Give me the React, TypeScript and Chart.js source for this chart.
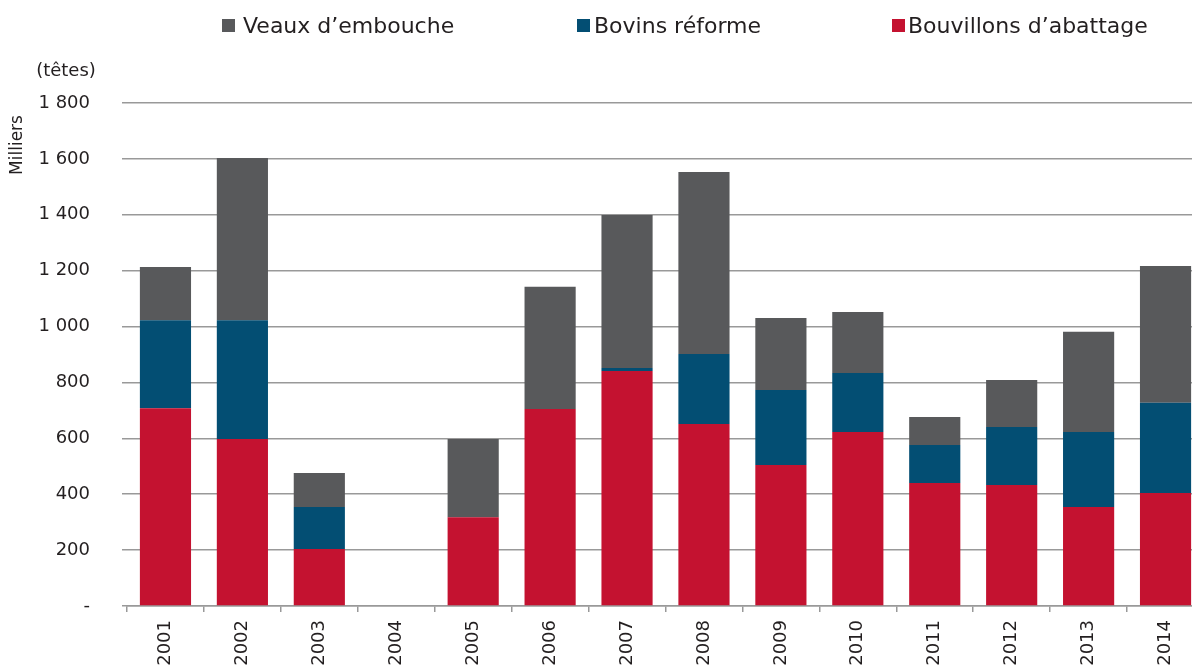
import React, { useEffect, useRef } from 'react';
import { Chart, registerables } from 'chart.js';

Chart.register(...registerables);

const years = ['2001', '2002', '2003', '2004', '2005', '2006', '2007', '2008', '2009', '2010', '2011', '2012', '2013', '2014'];
const bouvillonsAbattage = [708, 598, 204, 0, 318, 705, 841, 651, 505, 623, 440, 433, 354, 404];
const bovinsReforme = [315, 425, 150, 0, 0, 0, 11, 251, 268, 211, 136, 208, 269, 323];
const veauxEmbouche = [190, 580, 122, 0, 280, 437, 547, 651, 258, 218, 100, 168, 358, 490];
const yTickLabels = ['-', '200', '400', '600', '800', '1 000', '1 200', '1 400', '1 600', '1 800'];
const seriesNames = ['Veaux d’embouche', 'Bovins réforme', 'Bouvillons d’abattage'];
const seriesColors = ['#58595B', '#034E73', '#C41230'];
const unitLabel = '(têtes)';
const axisTitle = 'Milliers';

const FONT = '"DejaVu Sans", sans-serif';
const TEXT = '#231F20';

const overlayPlugin = {
  id: 'overlay',
  afterDraw(chart: any) {
    const ctx = chart.ctx;
    ctx.save();
    // legend
    const squares = [222, 577, 892];
    const texts = [243, 594, 908];
    ctx.textBaseline = 'middle';
    ctx.textAlign = 'left';
    ctx.font = `22px ${FONT}`;
    for (let i = 0; i < seriesNames.length; i++) {
      ctx.fillStyle = seriesColors[i];
      ctx.fillRect(squares[i], 19, 13, 13);
      ctx.fillStyle = TEXT;
      ctx.fillText(seriesNames[i], texts[i], 27);
    }
    // unit label
    ctx.font = `18px ${FONT}`;
    ctx.textAlign = 'center';
    ctx.fillText(unitLabel, 66, 71);
    // axis title
    ctx.translate(18, 145);
    ctx.rotate(-Math.PI / 2);
    ctx.font = `17px ${FONT}`;
    ctx.fillText(axisTitle, 0, 0);
    ctx.restore();
  },
};

export default function App() {
  const ref = useRef<HTMLCanvasElement>(null);
  useEffect(() => {
    if (!ref.current) return;
    const chart = new Chart(ref.current, {
      type: 'bar',
      data: {
        labels: years,
        datasets: [
          { label: seriesNames[2], data: bouvillonsAbattage, backgroundColor: seriesColors[2] },
          { label: seriesNames[1], data: bovinsReforme, backgroundColor: seriesColors[1] },
          { label: seriesNames[0], data: veauxEmbouche, backgroundColor: seriesColors[0] },
        ],
      },
      options: {
        animation: false,
        responsive: false,
        devicePixelRatio: 1,
        layout: { padding: { top: 103, right: 11, left: 0, bottom: 0 } },
        datasets: { bar: { barPercentage: 0.665, categoryPercentage: 1 } },
        plugins: { legend: { display: false }, tooltip: { enabled: false } },
        scales: {
          x: {
            stacked: true,
            offset: true,
            grid: { offset: true, drawOnChartArea: false, drawTicks: true, tickLength: 6, color: '#999', lineWidth: 1.5 },
            border: { display: true, color: '#999', width: 1.5 },
            ticks: { minRotation: 90, maxRotation: 90, padding: 8, color: TEXT, font: { family: FONT, size: 18 } },
            afterFit: (s: any) => { s.height = 65; },
          },
          y: {
            stacked: true,
            min: 0,
            max: 1800,
            ticks: {
              stepSize: 200,
              padding: 32,
              color: TEXT,
              font: { family: FONT, size: 18 },
              callback: (_v: any, i: number) => yTickLabels[i],
            },
            grid: { color: '#999', lineWidth: 1.5, tickLength: 5 },
            border: { display: false },
            afterFit: (s: any) => { s.width = 127; },
          },
        },
      },
      plugins: [overlayPlugin],
    });
    return () => chart.destroy();
  }, []);
  return (
    <div style={{ position: 'fixed', left: 0, top: 0, width: 1192, height: 671, overflow: 'hidden', background: '#fff' }}>
      <canvas ref={ref} width={1215} height={671} style={{ width: 1215, height: 671, display: 'block' }} />
    </div>
  );
}
